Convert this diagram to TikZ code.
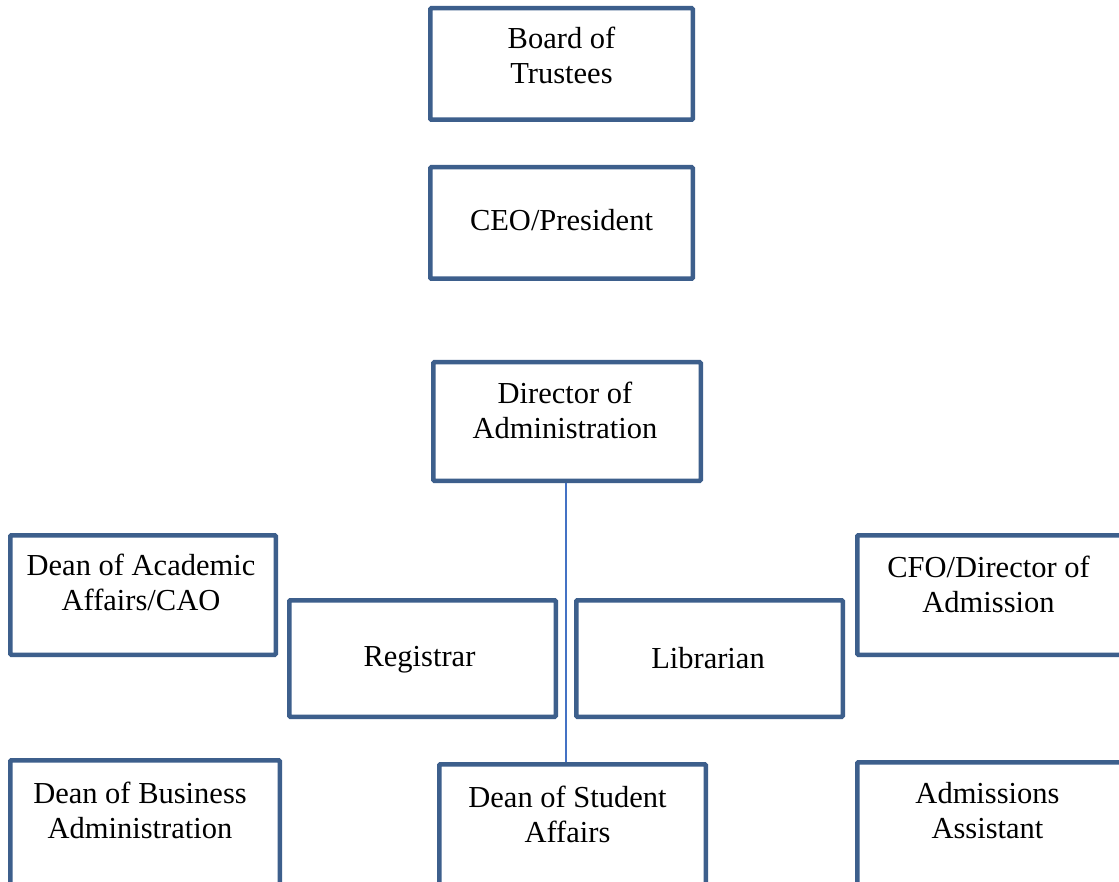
\documentclass[tikz,border=0pt]{standalone}
\usepackage{fontspec}
\setmainfont{Liberation Serif}
\definecolor{boxblue}{RGB}{61,95,140}
\definecolor{linkblue}{RGB}{68,114,196}
\begin{document}
\begin{tikzpicture}[x=1pt,y=-1pt,
  orgbox/.style={draw=boxblue, line width=4.5pt, fill=white, rounded corners=1pt, inner sep=0pt},
  lbl/.style={anchor=north, inner sep=0pt, align=center, font=\fontsize{30.5}{35}\selectfont},
  conn/.style={draw=linkblue, line width=1.2pt}]
\path[use as bounding box, clip] (0,0) rectangle (1119,882);
\fill[white] (0,0) rectangle (1119,882);
% boxes (outer size minus line width)
\node[orgbox, minimum width=262.5pt, minimum height=111.5pt] (board) at (561.5,64) {};
\node[orgbox, minimum width=262.5pt, minimum height=111.5pt] (ceo) at (561.5,223) {};
\node[orgbox, minimum width=267.5pt, minimum height=118.5pt] (dir) at (567,421.5) {};
\node[orgbox, minimum width=265.5pt, minimum height=119.5pt] (dacad) at (143,595) {};
\node[orgbox, minimum width=265.5pt, minimum height=119.5pt] (cfo) at (990,595) {};
\node[orgbox, minimum width=266.5pt, minimum height=116.5pt] (reg) at (422.5,658.5) {};
\node[orgbox, minimum width=266.5pt, minimum height=116.5pt] (lib) at (709.5,658.5) {};
\node[orgbox, minimum width=269.5pt, minimum height=127.5pt] (dbus) at (145,824) {};
\node[orgbox, minimum width=266.5pt, minimum height=123.5pt] (dstu) at (572.5,826) {};
\node[orgbox, minimum width=265.5pt, minimum height=125.5pt] (adm) at (990,825) {};
% connector
\draw[conn] ([xshift=-1pt]dir.south) -- ([xshift=-1pt]dir.south |- dstu.north);
% labels
\node[lbl] (board-t) at (561.5,27) {Board of\\Trustees};
\node[lbl] (ceo-t) at (561.5,209) {CEO/President};
\node[lbl] (dir-t) at (565,382) {Director of\\Administration};
\node[lbl] (dacad-t) at (141,554) {Dean of Academic\\Affairs/CAO};
\node[lbl] (cfo-t) at (988.5,556) {CFO/Director of\\Admission};
\node[lbl] (reg-t) at (419.5,646) {Registrar};
\node[lbl] (lib-t) at (708,647) {Librarian};
\node[lbl] (dbus-t) at (140,782) {Dean of Business\\Administration};
\node[lbl] (dstu-t) at (567.5,786) {Dean of Student\\Affairs};
\node[lbl] (adm-t) at (987.5,782) {Admissions\\Assistant};
\end{tikzpicture}
\end{document}
